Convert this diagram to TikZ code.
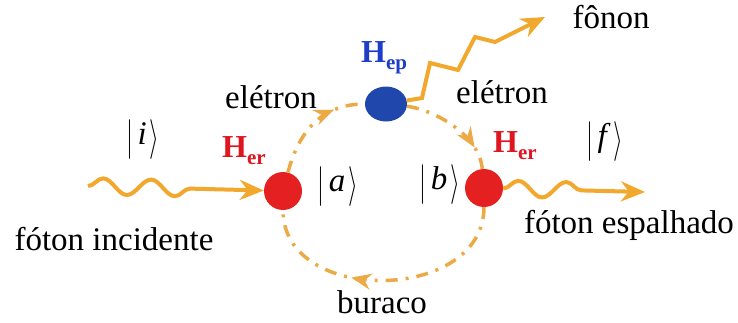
\documentclass[tikz,border=0pt]{standalone}
\usepackage{fontspec}
\usepackage{graphicx}
\setmainfont{Liberation Serif}
\usetikzlibrary{arrows.meta,shapes.geometric,decorations.pathmorphing,decorations.markings}
\definecolor{photonorange}{RGB}{242,168,45}
\definecolor{holeorange}{RGB}{236,170,70}
\definecolor{dotred}{RGB}{228,32,32}
\definecolor{dotblue}{RGB}{32,72,172}
\definecolor{hred}{RGB}{222,22,32}
\definecolor{hblue}{RGB}{30,62,200}
\newcommand{\ketlab}[1]{\raisebox{-5pt}{\scalebox{1}[1.6]{$|$}}\hspace{4pt}\textit{#1}\hspace{3pt}\raisebox{-5pt}{\scalebox{1}[1.6]{$\rangle$}}}
\newcommand{\hlab}[1]{H\raisebox{-7pt}{\fontsize{21}{23}\selectfont #1}}

\begin{document}
\begin{tikzpicture}[x=1pt,y=1pt,
    every node/.style={inner sep=0pt},
    lbl/.style={font=\fontsize{33}{36}\selectfont},
    hlbl/.style={font=\bfseries\fontsize{32}{34}\selectfont},
    reddot/.style={circle,fill=dotred,minimum size=38pt},
    bluedot/.style={ellipse,fill=dotblue,minimum width=42pt,minimum height=35pt},
    photon/.style={draw=photonorange,line width=4pt,decorate,decoration={snake,segment length=48pt,amplitude=8pt,post length=#1}},
    hole/.style={draw=holeorange,line width=3.5pt,dash pattern=on 12pt off 8pt on 3pt off 8pt},
    midarrow/.style={postaction={decorate,decoration={markings,mark=at position #1 with {\arrow{Stealth[length=20pt,width=16pt]}}}}}]
  \useasboundingbox (0,0) rectangle (738,322);
  % dots
  \node[reddot] (A) at (283,131) {};
  \node[reddot] (B) at (484,134) {};
  \node[bluedot] (ep) at (386,218) {};
  \coordinate (inc) at (88,136);
  \coordinate (scat) at (645,130);
  \coordinate (phon) at (545,305);
  % electron and hole
  \draw[hole,midarrow=0.72] (A) .. controls +(17,64) and +(-61,0) .. (ep);
  \draw[hole,midarrow=0.78] (ep) .. controls +(45,-5) and +(-5,55) .. (B);
  \draw[hole,midarrow=0.62] (B) .. controls +(0,-115) and +(0,-115) .. (A);
  % photons and phonon
  \draw[photon=55pt,-{Stealth[length=24pt,width=20pt]}] (inc) -- (A);
  \draw[photon=42pt,-{Stealth[length=24pt,width=20pt]}] (B) -- (scat);
  \draw[draw=photonorange,line width=4pt,line join=miter,-{Stealth[length=24pt,width=20pt]}]
    (ep) -- (422,224) -- (430,259) -- (458,252) -- (475,285) -- (495,280) -- (phon);
  % labels
  \node[lbl] (ki) at (143,182) {\ketlab{i}};
  \node[lbl] (ka) at (338,135) {\ketlab{a}};
  \node[lbl] (kb) at (440,137) {\ketlab{b}};
  \node[lbl] (kf) at (605,180) {\ketlab{f}};
  \node[hlbl,text=hred,anchor=base west] (herA) at (222,165) {\hlab{er}};
  \node[hlbl,text=hred,anchor=base west] (herB) at (493,170) {\hlab{er}};
  \node[hlbl,text=hblue,anchor=base west] (hep) at (361,259) {\hlab{ep}};
  \node[lbl,anchor=base] (elA) at (271,214) {elétron};
  \node[lbl,anchor=base] (elB) at (502,219) {elétron};
  \node[lbl,anchor=base] (fonon) at (611,293) {fônon};
  \node[lbl,anchor=base] (finc) at (114,72) {fóton incidente};
  \node[lbl,anchor=base] (fesp) at (629,89) {fóton espalhado};
  \node[lbl,anchor=base] (bur) at (382,9) {buraco};
\end{tikzpicture}
\end{document}
